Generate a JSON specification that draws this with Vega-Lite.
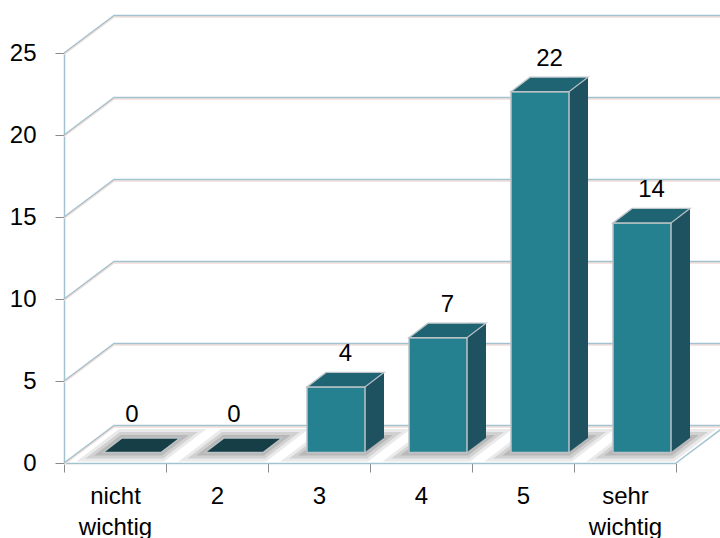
{
  "$schema": "https://vega.github.io/schema/vega-lite/v6.json",
  "width": 656,
  "height": 463,
  "autosize": {"type": "none"},
  "padding": {"left": 64, "top": 0, "right": 0, "bottom": 75},
  "background": "white",
  "config": {
    "view": {"stroke": null},
    "axis": {
      "labelFont": "Liberation Sans",
      "labelFontSize": 24,
      "labelColor": "#000000",
      "domainColor": "#a3c2cf",
      "domainWidth": 1.5,
      "tickColor": "#8a8a8a",
      "tickWidth": 1,
      "tickSize": 9,
      "grid": false
    }
  },
  "datasets": {
    "ratings": [
      {"cat": "nicht wichtig", "value": 0},
      {"cat": "2", "value": 0},
      {"cat": "3", "value": 4},
      {"cat": "4", "value": 7},
      {"cat": "5", "value": 22},
      {"cat": "sehr wichtig", "value": 14}
    ],
    "ticks": [{"t": 0}, {"t": 5}, {"t": 10}, {"t": 15}, {"t": 20}, {"t": 25}]
  },
  "data": {"name": "ratings"},
  "layer": [
    {
      "data": {"name": "ticks"},
      "mark": {"type": "point", "shape": "M 0 1.5 L 50 -36 L 720 -36", "size": 4, "filled": false, "stroke": "#f3dcd6", "strokeWidth": 1.5, "opacity": 1},
      "encoding": {
        "x": {"datum": "nicht wichtig", "type": "nominal", "bandPosition": 0, "title": null,
              "scale": {"domain": ["nicht wichtig", "2", "3", "4", "5", "sehr wichtig"], "range": [0, 612], "paddingInner": 0, "paddingOuter": 0}},
        "y": {"field": "t", "type": "quantitative", "title": null}
      }
    },
    {
      "data": {"name": "ticks"},
      "mark": {"type": "point", "shape": "M 0 0 L 50 -37.5 L 720 -37.5", "size": 4, "filled": false, "stroke": "#a3c2cf", "strokeWidth": 1.5, "opacity": 1},
      "encoding": {
        "x": {"datum": "nicht wichtig", "type": "nominal", "bandPosition": 0, "title": null},
        "y": {"field": "t", "type": "quantitative", "title": null}
      }
    },
    {
      "data": {"values": [{}]},
      "mark": {"type": "point", "shape": "M 0 0 L 50 -37.5", "size": 4, "filled": false, "stroke": "#a3c2cf", "strokeWidth": 1.5, "opacity": 1},
      "encoding": {
        "x": {"datum": "sehr wichtig", "type": "nominal", "bandPosition": 1, "title": null},
        "y": {"datum": 0, "type": "quantitative", "title": null}
      }
    },
    {
      "mark": {"type": "point", "shape": "M -38.6 -1.5 L 49.1 -1.5 L 91.6 -34 L 3.9 -34 Z", "size": 4, "filled": true, "fill": "#707070", "strokeWidth": 0, "opacity": 0.15},
      "encoding": {
        "x": {"field": "cat", "type": "nominal", "title": null},
        "y": {"datum": 0, "type": "quantitative", "title": null}
      }
    },
    {
      "mark": {"type": "point", "shape": "M -29.8 -4.5 L 48 -4.5 L 82.8 -31 L 5 -31 Z", "size": 4, "filled": true, "fill": "#707070", "strokeWidth": 0, "opacity": 0.2},
      "encoding": {
        "x": {"field": "cat", "type": "nominal", "title": null},
        "y": {"datum": 0, "type": "quantitative", "title": null}
      }
    },
    {
      "mark": {"type": "point", "shape": "M -20.9 -7.5 L 47 -7.5 L 73.9 -28 L 6 -28 Z", "size": 4, "filled": true, "fill": "#707070", "strokeWidth": 0, "opacity": 0.25},
      "encoding": {
        "x": {"field": "cat", "type": "nominal", "title": null},
        "y": {"datum": 0, "type": "quantitative", "title": null}
      }
    },
    {
      "transform": [{"filter": "datum.value > 0"}],
      "mark": {"type": "bar", "width": 19, "xOffset": 55.5, "yOffset": -25, "y2Offset": -25, "fill": "#1f5261", "strokeWidth": 0},
      "encoding": {
        "x": {"field": "cat", "type": "nominal", "title": null},
        "y": {"field": "value", "type": "quantitative", "title": null},
        "y2": {"datum": 0}
      }
    },
    {
      "transform": [{"filter": "datum.value > 0"}],
      "mark": {"type": "point", "shape": "M 45.5 -25.5 L 45.5 -10.5 L 65.5 -25.5 Z", "size": 4, "filled": true, "fill": "#1f5261", "strokeWidth": 0, "opacity": 1},
      "encoding": {
        "x": {"field": "cat", "type": "nominal", "title": null},
        "y": {"datum": 0, "type": "quantitative", "title": null}
      }
    },
    {
      "transform": [{"filter": "datum.value > 0"}],
      "mark": {"type": "bar", "width": 58, "xOffset": 17, "yOffset": -10.5, "y2Offset": -10.5, "fill": "#25808f", "stroke": "#bcc4c8", "strokeWidth": 1.5},
      "encoding": {
        "x": {"field": "cat", "type": "nominal", "title": null,
              "axis": {"tickBand": "extent", "labelExpr": "split(datum.label, ' ')", "labelLineHeight": 31, "labelPadding": 12, "labelAngle": 0, "labelAlign": "center", "labelBaseline": "top"}},
        "y": {"field": "value", "type": "quantitative", "title": null,
              "scale": {"domain": [0, 25], "range": [463, 53], "nice": false},
              "axis": {"values": [0, 5, 10, 15, 20, 25], "labelPadding": 19}},
        "y2": {"datum": 0}
      }
    },
    {
      "mark": {"type": "point", "shape": "M -12 -10.5 L 46 -10.5 L 65 -25 L 7 -25 Z", "size": 4, "filled": true, "stroke": "#bcc4c8", "strokeWidth": 1.3, "opacity": 1},
      "encoding": {
        "x": {"field": "cat", "type": "nominal", "title": null},
        "y": {"field": "value", "type": "quantitative", "title": null},
        "fill": {"condition": {"test": "datum.value == 0", "value": "#163e47"}, "value": "#1f6472"}
      }
    },
    {
      "transform": [{"filter": "datum.value > 0"}],
      "mark": {"type": "text", "font": "Liberation Sans", "fontSize": 24, "color": "#000000", "align": "center", "baseline": "alphabetic", "dx": 26.5, "dy": -36},
      "encoding": {
        "x": {"field": "cat", "type": "nominal", "title": null},
        "y": {"field": "value", "type": "quantitative", "title": null},
        "text": {"field": "value", "type": "quantitative"}
      }
    },
    {
      "transform": [{"filter": "datum.value == 0"}],
      "mark": {"type": "text", "font": "Liberation Sans", "fontSize": 24, "color": "#000000", "align": "center", "baseline": "alphabetic", "dx": 17, "dy": -41},
      "encoding": {
        "x": {"field": "cat", "type": "nominal", "title": null},
        "y": {"field": "value", "type": "quantitative", "title": null},
        "text": {"field": "value", "type": "quantitative"}
      }
    }
  ]
}
